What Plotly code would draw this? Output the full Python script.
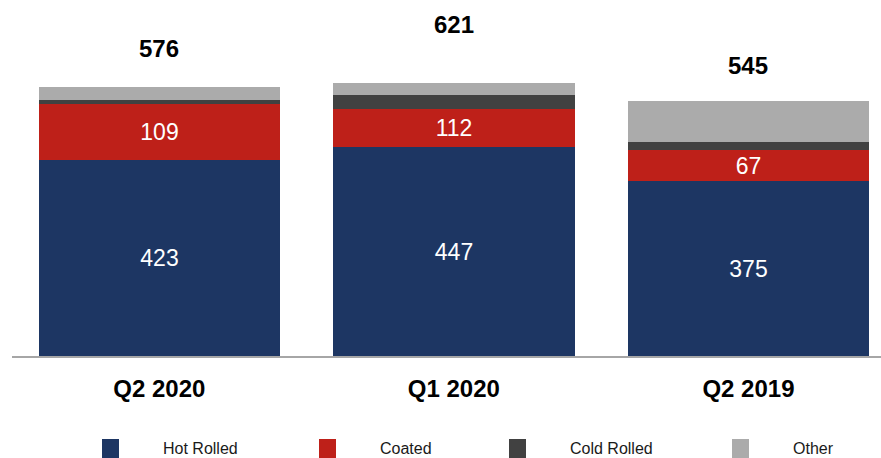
import plotly.graph_objects as go

categories = ["Q2 2020", "Q1 2020", "Q2 2019"]
hot_rolled = [421, 448, 376]
coated = [120, 82, 67]
cold_rolled = [9, 30, 17]
other = [28, 26, 88]
hot_labels = ["423", "447", "375"]
coated_labels = ["109", "112", "67"]
totals = [576, 621, 545]

series_names = ["Hot Rolled", "Coated", "Cold Rolled", "Other"]
colors = ["#1d3663", "#be2019", "#414141", "#ababab"]

FONT = "Liberation Sans, Arial, sans-serif"
W, H = 881, 458
L, B = 12, 102
PW, PH = W - L, H - B

fig = go.Figure()
series = [hot_rolled, coated, cold_rolled, other]
labels = [hot_labels, coated_labels, None, None]
for name, vals, col, lab in zip(series_names, series, colors, labels):
    fig.add_trace(go.Bar(
        x=categories, y=vals, name=name, marker_color=col, marker_line_width=0,
        width=0.82,
        text=lab if lab else None,
        textposition="inside" if lab else "none",
        insidetextanchor="middle",
        textangle=0,
        textfont=dict(color="white", size=23, family=FONT),
        showlegend=False,
    ))

for c, t in zip(categories, totals):
    fig.add_annotation(x=c, y=t * 1.145, text=f"<b>{t}</b>", showarrow=False,
                       font=dict(size=24, color="black", family=FONT),
                       xanchor="center", yanchor="middle")

# custom legend
leg_sq_x = [102, 319, 509, 732]
for name, col, sx in zip(series_names, colors, leg_sq_x):
    fig.add_shape(type="rect", xref="paper", yref="paper",
                  x0=(sx - L) / PW, x1=(sx + 17 - L) / PW,
                  y0=(PH - 439) / PH, y1=(PH - 458) / PH,
                  fillcolor=col, line_width=0)
    fig.add_annotation(xref="paper", yref="paper", x=(sx + 59 - L) / PW,
                       y=(PH - 448) / PH, text=name, showarrow=False,
                       xanchor="left", yanchor="middle",
                       font=dict(size=16, color="#1a1a1a", family=FONT))

fig.update_layout(
    barmode="stack", bargap=0,
    width=W, height=H,
    margin=dict(l=L, r=0, t=0, b=B),
    paper_bgcolor="white", plot_bgcolor="white",
    uniformtext=dict(minsize=23, mode="show"),
    xaxis=dict(range=[-0.5, 2.45], showline=True, linecolor="#a6a6a6", linewidth=2,
               ticks="", showgrid=False, zeroline=False,
               tickfont=dict(size=24, color="black", family=FONT, weight="bold"),
               ticklabelstandoff=10),
    yaxis=dict(range=[0, PH / 0.466], visible=False, showgrid=False, zeroline=False),
)

fig.write_html("out.html")
